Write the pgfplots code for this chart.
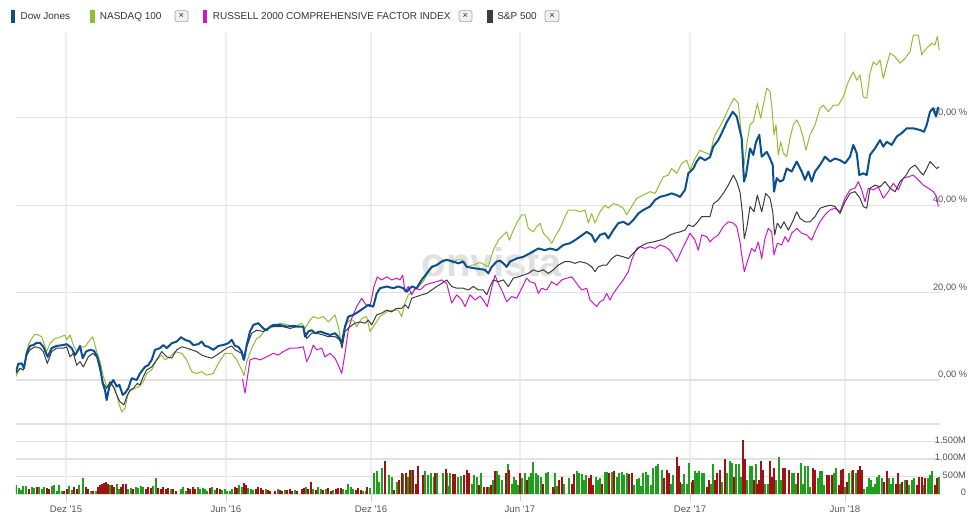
\documentclass[border=0pt]{standalone}
\usepackage{pgfplots}
\pgfplotsset{compat=1.18}
\usepackage{fontspec}
\setmainfont{Liberation Sans}
\definecolor{dow}{HTML}{0B4F8E}
\definecolor{ndx}{HTML}{8FBE35}
\definecolor{rus}{HTML}{CC18CC}
\definecolor{spx}{HTML}{3C3C3C}
\definecolor{gridv}{HTML}{EEEEEE}
\definecolor{gridh}{HTML}{E2E2E2}
\definecolor{volg}{HTML}{1EA01E}
\definecolor{volr}{HTML}{A01212}
\definecolor{lbl}{HTML}{555555}
\definecolor{legtxt}{HTML}{333333}
\begin{document}
\begin{tikzpicture}
\path[use as bounding box] (0,0) rectangle (732.75pt,388.5pt);
% watermark
\node[anchor=base, inner sep=0pt, font=\fontsize{30}{30}\selectfont\bfseries, text=black!12] at (369pt,181.5pt) {onvista};
% legend
\fill[dow] (8.25pt,371.5pt) rectangle (11.6pt,381.25pt);
\node[anchor=base west, inner sep=0pt, font=\fontsize{7.5}{9}\selectfont, text=legtxt] at (15.3pt,373.5pt) {Dow Jones};
\fill[ndx] (67.5pt,371.5pt) rectangle (71.6pt,381.25pt);
\node[anchor=base west, inner sep=0pt, font=\fontsize{7.5}{9}\selectfont, text=legtxt] at (74.7pt,373.5pt) {NASDAQ 100};
\draw[rounded corners=1.5pt, fill=black!6, draw=black!35, line width=0.5pt] (131.25pt,372.25pt) rectangle (141pt,380.5pt);
\node[inner sep=0pt, font=\fontsize{7}{8}\selectfont, text=legtxt] at (136.1pt,376.4pt) {×};
\fill[rus] (151.95pt,371.5pt) rectangle (155.25pt,381.25pt);
\node[anchor=base west, inner sep=0pt, font=\fontsize{7.5}{9}\selectfont, text=legtxt] at (159.45pt,373.5pt) {RUSSELL 2000 COMPREHENSIVE FACTOR INDEX};
\draw[rounded corners=1.5pt, fill=black!6, draw=black!35, line width=0.5pt] (344.25pt,372.25pt) rectangle (354pt,380.5pt);
\node[inner sep=0pt, font=\fontsize{7}{8}\selectfont, text=legtxt] at (349.1pt,376.4pt) {×};
\fill[spx] (365.25pt,371.5pt) rectangle (369.45pt,381.25pt);
\node[anchor=base west, inner sep=0pt, font=\fontsize{7.5}{9}\selectfont, text=legtxt] at (372.75pt,373.5pt) {S\&P 500};
\draw[rounded corners=1.5pt, fill=black!6, draw=black!35, line width=0.5pt] (408.75pt,372.25pt) rectangle (419.25pt,380.5pt);
\node[inner sep=0pt, font=\fontsize{7}{8}\selectfont, text=legtxt] at (414pt,376.4pt) {×};

% main chart
\begin{axis}[
  at={(12pt,70.5pt)}, anchor=south west, scale only axis,
  width=693pt, height=293.25pt,
  xmin=16, xmax=940, ymin=-10.07, ymax=79.41,
  axis line style={draw=none},
  xtick={66,226,371,520,690,845}, xticklabels={},
  ytick={0,20,40,60},
  yticklabels={{0,00 \%},{20,00 \%},{40,00 \%},{60,00 \%}},
  yticklabel pos=right,
  yticklabel style={anchor=east, xshift=24pt, yshift=3.75pt, font=\fontsize{7}{8}\selectfont, text=lbl},
  major tick length=0pt,
  xmajorgrids, ymajorgrids,
  x grid style={gridv, line width=1.3pt},
  y grid style={gridh, line width=0.9pt},
  line join=round,
]
\addplot[ndx, line width=0.75pt] coordinates {
(16,0.8)(20,2.7)(23.3,2.3)(28.3,8.0)(31.7,9.5)(35,10.5)(38.3,10.3)(41.7,9.9)(46.7,6.5)(50,8.4)(55,9.5)(60,9.8)(65,10.3)(66.7,9.2)(70,10.3)(73.3,8.0)(76.7,6.5)(80,7.6)(85,7.6)(90,9.2)(92.7,9.9)(96.7,6.5)(100,4.2)(103.3,0.8)(106.7,-1.5)(110,-0.8)(115,-1.9)(118.3,-5.0)(121.7,-7.3)(125,-6.5)(128.3,-3.0)(131.7,-2.3)(135,-1.9)(139.3,-1.5)(143.3,-0.4)(146.7,1.5)(151.7,2.3)(156.7,4.6)(161.7,5.7)(165,4.6)(170,5.3)(175,6.5)(181.7,6.1)(186.7,4.6)(191.7,1.9)(196.7,1.5)(201.7,1.9)(206.7,1.1)(213.3,1.5)(218.3,3.8)(225,6.1)(231.7,6.1)(236.7,4.6)(241.7,2.3)(244,1.0)(246.7,4.1)(251.7,7.3)(256.7,9.5)(260,9.9)(265,11.4)(273.3,12.2)(280,13.0)(288.3,12.6)(295,12.2)(301.7,13.0)(305,11.8)(310,13.7)(313.3,14.5)(318.3,14.1)(323.3,14.5)(328.3,13.3)(335,14.9)(338.3,12.2)(341.7,8.0)(345,12.6)(350,13.7)(353.3,13.7)(356.7,12.2)(361.7,14.1)(366.7,14.5)(370,11.1)(373.3,12.2)(380,14.5)(386.7,15.6)(393.3,16.0)(398.3,16.0)(401.7,14.5)(405,17.6)(408.3,19.5)(413.3,20.2)(418.3,21.4)(423.3,22.5)(426.7,24.0)(431.7,25.6)(436.7,26.3)(443.3,27.5)(448.3,27.5)(453.3,26.7)(456.7,27.5)(461.7,27.5)(466.7,25.9)(473.3,26.3)(480,26.9)(485,26.3)(488.3,25.9)(493.3,29.7)(495,30.5)(498.3,32.0)(503.3,33.2)(506.7,33.9)(509.3,32.0)(513.3,34.3)(516.7,35.9)(521.7,37.8)(525,37.8)(528.3,34.7)(533.3,33.9)(536.7,35.1)(540,35.9)(543.3,33.6)(548.3,32.4)(551.7,31.3)(555,32.8)(560,34.7)(565,37.4)(568.3,38.9)(575,38.9)(580,38.5)(585,38.9)(588.3,35.9)(591.7,38.1)(595,35.9)(600,38.5)(605,40.0)(608.3,39.3)(613.3,40.4)(618.3,40.0)(623.3,39.3)(626.7,37.8)(631.7,39.7)(636.7,41.6)(643.3,42.3)(650,43.1)(655,42.7)(660,45.0)(663.3,46.5)(668.3,46.9)(671.7,48.4)(676.7,47.3)(681.7,49.6)(686.7,50.3)(690,48.1)(695,50.7)(700,52.6)(703.3,52.2)(710,51.6)(713.3,54.9)(715,56.1)(720,58.0)(725,60.3)(729.3,62.5)(734,64.5)(738.3,63.3)(740,59.5)(744,49.2)(746.7,53.8)(750,58.4)(753.3,59.1)(757.3,63.3)(760.7,59.9)(764,63.7)(766.7,66.8)(770,66.0)(771.7,62.9)(774,56.1)(776,58.4)(778.3,51.5)(780.7,54.5)(783.3,51.9)(786.7,51.1)(790,55.3)(793.3,58.4)(796.7,59.5)(800,58.0)(803.3,55.3)(806,52.6)(810,56.1)(815,58.4)(820,62.2)(823.3,62.9)(828.3,61.4)(833.3,62.9)(838.3,62.9)(843.3,64.8)(848.3,68.3)(853.3,70.5)(856.7,68.6)(860,69.8)(863.3,64.8)(866.7,64.5)(870,70.2)(873.3,72.8)(876.7,72.1)(880,73.2)(883.3,69.0)(886.7,72.1)(890,74.8)(895,74.0)(900,72.5)(905,73.6)(910,75.1)(913.3,78.9)(918.3,78.9)(921.7,74.4)(925,75.5)(928.3,76.3)(931.7,77.0)(935,76.7)(937.3,78.6)(939.3,75.5)
};
\addplot[rus, line width=0.75pt] coordinates {
(242.5,0.2)(245,-3.0)(247.3,0.4)(250,4.6)(255,5.0)(260,4.6)(266.7,5.3)(273.3,6.1)(278.3,5.7)(283.3,6.5)(290,7.3)(296.7,7.3)(303.3,7.6)(306.7,4.2)(310,5.7)(313.3,8.0)(316.7,6.9)(321.7,7.3)(325,5.3)(330,6.1)(335,5.0)(338.3,3.4)(341.7,1.5)(345,6.1)(348.3,11.4)(351.7,14.1)(356.7,16.8)(361.7,18.7)(366,17.2)(370,16.8)(374,21.4)(377.3,23.6)(381.7,22.9)(386.7,23.6)(391.7,22.9)(396.7,23.3)(400,22.9)(402.7,24.0)(405,20.2)(408.3,21.4)(411.7,19.5)(415,21.0)(420,20.6)(425,21.7)(430,22.1)(436.7,22.5)(441.7,22.9)(446.7,22.1)(451.7,17.6)(456.7,19.5)(461.7,18.3)(465,16.8)(470,19.5)(475,18.3)(480,19.2)(483.3,18.3)(487.3,16.8)(491.7,21.1)(495,24.0)(498.3,22.1)(501.7,20.6)(506.7,17.9)(511.7,19.1)(516.7,18.7)(521.7,21.0)(526.7,23.3)(530,22.5)(535,22.1)(538.3,19.8)(541.7,21.0)(546.7,20.6)(551.7,22.5)(556.7,21.7)(561.7,22.9)(566.7,23.3)(571.7,23.6)(576.7,22.1)(581.7,20.6)(586.7,21.0)(590,18.3)(593.3,17.6)(596.7,16.8)(600,17.9)(603.3,18.3)(606.7,19.8)(610,18.3)(613.3,19.8)(618.3,21.4)(623.3,22.9)(628.3,24.8)(631.7,27.5)(636.7,30.1)(640,30.5)(645,30.1)(650,30.5)(655,30.1)(660,30.9)(665,30.5)(670,29.7)(676.7,27.1)(681.7,29.7)(686.7,32.0)(690,33.6)(695,32.0)(698.3,29.7)(701.7,33.2)(706.7,32.8)(710,31.6)(713.3,32.4)(718.3,33.2)(723.3,35.1)(728.3,36.2)(733.3,35.9)(736.7,35.1)(740,31.6)(741.7,28.6)(744.3,24.8)(748.3,27.8)(751.7,30.1)(755,29.4)(758.3,31.6)(761.7,27.8)(765,32.4)(768.3,34.7)(771.7,33.9)(774,28.6)(777.3,31.3)(781.7,30.9)(785,32.8)(788.3,31.6)(791.7,33.6)(796.7,34.7)(801.7,33.6)(806.7,33.2)(811.7,32.0)(815,33.9)(820,36.2)(825,37.8)(830,38.9)(835,39.3)(840,38.5)(845,41.6)(850,43.5)(855,43.9)(858.3,45.4)(861.7,43.5)(865,40.8)(868.3,43.9)(873.3,43.5)(878.3,44.2)(883.3,41.6)(888.3,43.1)(893.3,45.0)(898.3,43.5)(903.3,46.2)(908.3,46.5)(913.3,46.9)(918.3,45.8)(923.3,44.6)(928.3,43.9)(933.3,43.1)(936.7,41.9)(938.3,39.7)
};
\addplot[spx, line width=0.75pt] coordinates {
(16,1.5)(20,2.7)(23.3,2.3)(26.7,5.7)(30,6.9)(35,7.6)(40,7.3)(43.3,6.5)(47.3,3.8)(51.7,6.5)(56.7,7.3)(63.3,7.3)(66.7,7.6)(70,5.3)(73.3,6.1)(76.7,3.4)(80,4.2)(83.3,3.0)(88.3,5.3)(92.7,6.1)(96.7,5.3)(100,2.3)(103.3,-0.8)(106.7,-1.9)(110,-0.4)(113.3,-1.5)(116.7,-3.4)(120,-5.0)(124,-5.7)(126.7,-3.8)(130,-2.3)(133.3,-1.9)(137.3,-0.8)(140,-1.1)(143.3,0.8)(146.7,2.3)(151.7,3.0)(156.7,4.6)(161.7,6.5)(166.7,5.3)(171.7,5.0)(176.7,6.9)(181.7,7.6)(186.7,7.3)(191.7,6.9)(196.7,6.5)(201.7,5.7)(206.7,5.3)(211.7,5.0)(216.7,5.7)(221.7,6.5)(226.7,7.3)(231.7,7.8)(235,6.9)(238.3,6.5)(241.7,6.1)(243.3,4.6)(246.7,7.6)(251.7,10.7)(256.7,11.4)(263.3,11.1)(270,12.2)(276.7,12.2)(283.3,12.2)(290,11.8)(296.7,12.2)(303.3,12.2)(306.7,9.5)(311.7,10.7)(316.7,10.7)(323.3,10.3)(328.3,9.9)(335,9.9)(340,9.2)(342,7.3)(345,11.1)(350,12.2)(355,13.0)(360,13.3)(365,13.0)(368.3,13.7)(371.7,12.6)(376.7,14.9)(381.7,15.3)(386.7,16.0)(391.7,15.6)(396.7,16.4)(401.7,16.4)(405,17.2)(408.3,16.4)(411.7,18.7)(416.7,19.1)(421.7,19.5)(426.7,19.8)(431.7,20.6)(436.7,21.4)(441.7,22.1)(446.7,22.9)(451.7,21.4)(456.7,21.0)(463.3,21.0)(468.3,20.6)(473.3,21.4)(478.3,20.6)(483.3,20.6)(486.7,19.5)(490,21.4)(493.3,22.9)(498.3,22.5)(503.3,22.9)(508.3,21.4)(513.3,23.3)(518.3,23.6)(523.3,24.0)(528.3,24.4)(533.3,25.2)(538.3,24.8)(543.3,25.2)(548.3,24.4)(553.3,25.2)(558.3,26.3)(565,27.1)(570,27.1)(575,26.7)(580,27.1)(586.7,26.7)(591.7,25.9)(595,24.8)(598.3,25.9)(603.3,26.3)(606.7,26.3)(611.7,27.8)(616.7,28.6)(623.3,28.2)(628.3,27.8)(633.3,29.0)(640,30.5)(646.7,31.3)(653.3,31.6)(660,32.0)(665,32.4)(670,33.2)(675,33.6)(680,33.9)(685,34.3)(688.3,35.5)(693.3,35.1)(696.7,35.9)(701.7,37.4)(706.7,37.4)(710,37.4)(713.3,40.3)(718.3,41.2)(723.3,42.7)(728.3,44.6)(733.3,46.9)(736.7,45.4)(740,43.0)(742.3,38.5)(744.3,32.4)(746.7,34.7)(750,39.7)(754,38.5)(757.3,42.3)(761.7,38.5)(765.7,42.7)(770,41.6)(772.7,38.5)(774.7,33.2)(777.3,35.9)(780.7,34.7)(784,36.2)(788.3,34.3)(793.3,36.6)(796.7,38.5)(800,37.0)(805,36.2)(810,36.2)(815,37.4)(820,39.3)(825,39.7)(830,40.0)(835,39.7)(840,38.1)(845,40.8)(850,42.7)(855,43.1)(860,41.6)(863.3,39.7)(866.7,39.3)(870,43.9)(875,44.6)(880,44.2)(885,45.4)(890,43.9)(895,43.1)(900,45.4)(905,46.5)(910,48.4)(915,49.2)(920,47.7)(923.3,46.9)(926.7,48.4)(930,50.0)(933.3,49.2)(936.7,48.4)(939.3,48.8)
};
\addplot[dow, line width=1.5pt] coordinates {
(16,1.9)(18.3,3.7)(21.7,3.8)(24,2.7)(26.7,6.2)(30,7.8)(33.3,8.0)(36.7,8.5)(40,8.5)(43.3,7.6)(47.7,5.3)(51.7,7.3)(56.7,7.8)(63.3,8.0)(66.7,8.2)(71.7,7.3)(75,5.7)(77.3,6.5)(80,7.8)(82.7,5.0)(86,6.5)(90,6.9)(94,6.7)(97.3,5.3)(100,3.0)(102.7,-0.8)(105,-2.3)(106.7,-4.6)(109.3,-1.5)(113.3,0)(116.7,-1.5)(119.3,-1.1)(122.7,-3.4)(125,-3.0)(128.3,-1.9)(131.7,0.4)(136.7,0)(140,1.5)(145,3.0)(148.3,3.4)(151.7,4.6)(155,6.9)(160,7.3)(163.3,8.0)(166.7,7.3)(171.7,8.4)(176.7,8.8)(181,9.8)(185,9.2)(190,8.8)(193.3,8.0)(198.3,8.2)(201.7,8.8)(205,7.8)(208.3,7.6)(213.3,6.9)(218.3,7.8)(223.3,8.0)(228.3,8.4)(231.7,9.2)(235,7.8)(238.3,7.6)(241.7,6.5)(244,4.6)(246.7,8.0)(250,11.1)(253.3,12.6)(258.3,13.0)(263.3,11.8)(266.7,11.4)(270,12.2)(273.3,12.6)(280,12.6)(286.7,12.2)(293.3,12.4)(298.3,12.2)(303.3,12.2)(305,9.9)(308.3,11.1)(311.7,11.4)(315,10.7)(320,11.1)(325,10.7)(330,10.3)(335,10.7)(338.3,9.9)(341.7,8.4)(345,12.2)(348.3,14.5)(353.3,14.9)(358.3,15.6)(363.3,16.4)(368.3,17.2)(373.3,16.8)(376.7,19.8)(380,21.0)(386.7,21.4)(393.3,21.0)(398.3,21.4)(403.3,21.0)(406.7,20.2)(411.7,21.4)(416.7,21.0)(421.7,22.9)(426.7,24.4)(431.7,25.9)(436.7,26.3)(441.7,27.1)(446.7,27.5)(453.3,27.1)(458.3,26.7)(463.3,27.1)(466.7,25.9)(473.3,25.6)(480,25.4)(485,25.2)(488.3,24.4)(491.7,25.9)(496.7,27.1)(500,27.3)(503.3,26.7)(506.7,25.9)(510,27.1)(516.7,27.8)(523.3,28.2)(530,29.0)(538.3,30.1)(545,29.7)(550,30.1)(556.7,29.7)(563.3,30.9)(570,31.3)(575,32.0)(580,32.8)(586.7,33.9)(591.7,33.2)(595,31.6)(600,33.2)(605,33.6)(608.3,32.4)(613.3,34.3)(618.3,35.9)(623.3,36.2)(628.3,35.5)(633.3,36.6)(638.3,38.1)(643.3,38.9)(650,39.7)(655,41.2)(660,41.9)(666.7,42.3)(671.7,42.7)(676.7,42.3)(680,41.9)(685,43.5)(688.3,47.3)(693.3,48.4)(696.7,50.0)(700,51.0)(705,50.3)(710,51.0)(713.3,53.4)(718.3,54.9)(721.7,56.5)(726.7,59.0)(730,60.3)(732.7,61.4)(736.7,60.3)(738.3,58.7)(741.7,55.3)(744,45.4)(746,46.9)(750,53.0)(753.3,51.5)(756,54.5)(759.3,56.1)(761.7,51.1)(766.7,52.2)(770,50.7)(772.7,49.2)(774,43.1)(776.7,46.2)(780,45.4)(783.3,45.8)(786.7,48.4)(791.7,47.7)(796.7,50.0)(801.7,47.7)(805,45.8)(808.3,47.7)(811.7,45.4)(815,47.7)(820,49.2)(825,51.1)(830,50.0)(835,50.7)(840,50.3)(845,49.6)(850,51.1)(853.3,53.8)(856.7,51.9)(859.3,46.9)(863.3,47.3)(866.7,46.9)(870,51.5)(875,53.0)(880,54.9)(883.3,53.4)(886.7,54.5)(891.7,53.8)(896.7,55.7)(901.7,56.5)(906.7,57.6)(913.3,57.6)(920,57.2)(924,56.8)(926.7,58.4)(930,61.4)(933.3,62.2)(936,60.3)(938.3,62.5)
};
\end{axis}

% volume panel
\begin{axis}[
  at={(12pt,18pt)}, anchor=south west, scale only axis,
  width=693pt, height=52.5pt,
  xmin=16, xmax=940, ymin=0, ymax=2000,
  axis line style={draw=none},
  xtick={66,226,371,520,690,845},
  xticklabels={Dez \textquotesingle15,Jun \textquotesingle16,Dez \textquotesingle16,Jun \textquotesingle17,Dez \textquotesingle17,Jun \textquotesingle18},
  xticklabel style={font=\fontsize{7.2}{8}\selectfont, text=lbl, anchor=north, yshift=0pt},
  xtick pos=bottom,
  ytick={0,500,1000,1500,2000},
  yticklabels={0,500M,1.000M,1.500M,{}},
  yticklabel pos=right,
  yticklabel style={anchor=east, xshift=23pt, yshift=1.2pt, font=\fontsize{7}{8}\selectfont, text=lbl},
  xtick align=outside, major tick length=5.5pt,
  xtick style={draw=black!20, line width=0.75pt},
  ytick style={draw=none},
  xmajorgrids, ymajorgrids,
  x grid style={gridv, line width=1.3pt},
  y grid style={gridh, line width=0.9pt},
]
\addplot[ycomb, volg, line width=1.4pt] coordinates {
(16,250)(18.7,180)(21,120)(23.3,220)(26,240)(31.7,200)(34.3,180)(39.3,200)(41.7,150)(44.3,200)(51.7,230)(54.3,250)(56.7,80)(59.3,250)(61.7,100)
(69,220)(71.7,120)(79.3,250)(82.7,450)(90.7,100)(96,100)
(110,250)(116.7,280)(119,150)(128.3,150)(130.7,180)(135.7,200)(138.3,180)(141,220)(143.3,200)(153.3,220)(155.7,450)(170.7,150)(180.7,150)(183,200)(185.7,100)(197.7,200)(200,150)(202.7,180)(205,150)(207.3,100)(212.3,200)(215,120)(222.3,120)(225,150)(227.3,100)
(230,100)(232.3,150)(239.3,250)(241.7,200)(248.3,180)(250.7,150)(253.3,120)(265.7,150)(277.7,150)(285,120)(295,120)(306,200)(313.3,150)(318.3,200)(320.7,150)(325.7,150)(333.3,120)(343.3,150)(345.7,120)(348.3,300)(350.7,200)(353.3,150)(363.3,80)(366,80)(370,180)
(374,600)(376.7,650)(379.3,330)(382,750)(389.3,550)(391.7,500)(396.7,350)(403.3,580)(407.7,500)(411.7,700)(425,650)(427.7,550)(431,600)(434.3,500)(437.3,600)(443.3,600)(446.7,600)(448.3,220)(450,600)(458.3,500)(461,520)(471.7,300)(474,550)(476.7,500)(480.7,600)(489,200)(493.3,400)(497.3,650)(499.3,550)(501.7,400)(507.7,850)(511.7,300)(514,500)(515.7,400)(518.3,250)(522.3,450)(525,600)(529,500)(531,600)(533.3,920)(535.7,600)(538.3,550)(541,500)(545.7,600)(548.3,620)(555,600)(557.3,220)(564,300)(569,470)(576.7,650)(579,600)(581.7,580)(584,400)(586,550)(595.7,500)(597.7,400)(600,450)(605,620)(607.3,620)(612.3,620)(616.7,500)(619,600)(621.7,620)(624,550)(626.7,600)(634,250)(636.7,420)(639,450)(640.7,220)(643.3,600)(645.7,620)(648.3,550)(650.7,250)(653.3,750)(656,800)(658.3,850)
(661.7,700)(671,280)(673.3,550)(682.3,300)(684.3,580)(686.7,300)(689,900)(695,650)(697.3,600)(699.3,650)(701.7,600)(704,600)(710.7,300)(712.7,850)(721.7,350)(727.3,600)(730,950)(732.3,900)(736,850)(738.7,850)(741,500)(747.3,400)(750,800)(752.3,800)(755.7,850)(765.3,300)(767.7,300)(776,400)(778.7,1050)(780.7,400)(791.7,600)(794,600)(796,300)(800.7,900)(802.7,300)(805,800)(807.7,800)(810,200)(817.7,450)(820,650)(822,650)(824,250)(834,600)(836.3,750)(845,200)(849.3,600)(851.7,650)(855.7,600)(864.3,150)(866.7,200)(868.7,450)(871,400)(873.3,200)(875.3,300)(877.3,500)(879.3,550)(881.7,450)(889,450)(891,300)(893.3,450)(900,300)(905,400)(909.3,250)(911.7,400)(914,450)(923.3,250)(927.7,450)(930,550)(932.3,650)(939,500)
};
\addplot[ycomb, volr, line width=1.4pt] coordinates {
(28.7,150)(36.7,200)(46.7,180)(49.3,150)(64,80)
(66.7,150)(74,200)(76.7,150)(86,200)(88.3,150)(93.3,80)(98.3,200)
(100,250)(101.7,300)(104,320)(106,350)(107.7,300)(112.3,250)(114.3,200)(121,200)(123.3,280)(126,300)(133.3,150)(146,150)(148.3,200)(150.7,180)(158.3,180)(160.7,150)(163.3,200)(165.7,150)(168.3,180)(173.3,150)(175.7,100)(188,180)(190.3,150)(192.7,200)(195,150)(210,180)(217.3,180)(220,150)
(234.7,200)(237.3,180)(244,320)(246,250)(256,150)(258.3,200)(260.7,180)(263.3,120)(267.7,120)(270,100)(275,80)(280,120)(282.3,100)(287.3,120)(290,150)(292.3,100)(297.3,100)(301.7,150)(304,180)(308.3,150)(310.7,350)(315.7,120)(323.3,120)(328.3,180)(331,100)(336,150)(338.3,180)(340.7,180)(355.7,120)(358.3,180)(361,120)(367.3,200)
(385,930)(394.3,120)(399.3,400)(401.7,600)(405.7,600)(410,700)(413.3,700)(416,300)(418.3,800)(422.7,550)(435,600)(446,720)(452.7,570)(455,570)(463.7,550)(466.7,680)(469,600)(479,270)(484,200)(486.7,200)(491,250)(495,650)(505.7,600)(509.3,700)(520,600)(526.7,400)(543.3,300)(552.7,200)(554,150)(559.3,400)(561.7,500)(571.7,300)(574.3,570)(588.7,450)(590.7,550)(593.3,250)(602.3,300)(609.3,600)(614,650)(629,580)(631.7,600)
(664,450)(666.7,700)(669.3,600)(676.7,1050)(678.7,800)(680,350)(691.7,350)(693.3,400)(706.7,200)(708.7,400)(715,400)(717.3,600)(720,700)(725,1000)(734,500)(743.3,1550)(745.3,1000)(754,400)(757.3,300)(759,400)(760.7,950)(763.3,700)(770,950)(772.3,500)(774,750)(782.7,750)(785,750)(789,700)(798.3,600)(812.7,750)(815,700)(826.7,550)(829.3,550)(831.7,550)(838.7,250)(841,700)(843.3,720)(847.3,350)(853.3,700)(857.7,700)(860,800)(862.3,700)(884,350)(886.7,650)(895.7,300)(897.7,600)(902.3,350)(907.3,400)(916.7,250)(919,500)(921.7,500)(925,450)(935,250)(936.7,450)
};
\end{axis}
\end{tikzpicture}
\end{document}
